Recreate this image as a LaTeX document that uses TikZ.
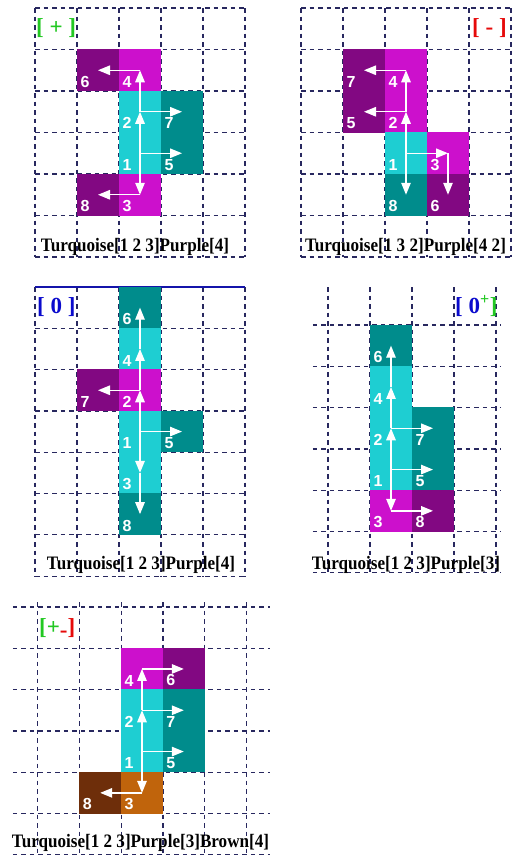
\documentclass[tikz,border=0pt]{standalone}
\usepackage{fontspec}
\setmainfont{Liberation Serif}
\newfontfamily\digfont{Liberation Sans}
\usetikzlibrary{arrows.meta}
\definecolor{turq}{RGB}{30,206,210}
\definecolor{tealc}{RGB}{0,140,140}
\definecolor{magc}{RGB}{204,16,204}
\definecolor{purc}{RGB}{130,8,130}
\definecolor{orbr}{RGB}{192,100,12}
\definecolor{dkbr}{RGB}{110,46,10}
\definecolor{gridc}{RGB}{40,40,95}
\definecolor{lgreen}{RGB}{34,200,34}
\definecolor{lred}{RGB}{230,10,10}
\definecolor{lblue}{RGB}{10,10,205}
\definecolor{topblue}{RGB}{20,20,170}
\tikzset{
  gridline/.style={gridc, line width=1.2pt, dash pattern=on 4.5pt off 4pt},
  cell/.style={rectangle, minimum width=\cw, minimum height=\ch, inner sep=0pt, outer sep=0pt, fill=#1},
  digit/.style={white, font=\digfont\bfseries\fontsize{16}{16}\selectfont, inner sep=0pt, anchor=south west},
  arr/.style={white, line width=1.3pt, -{Triangle[length=12pt,width=9.5pt]}},
  caption/.style={font=\bfseries\fontsize{19}{19}\selectfont, inner sep=0pt, anchor=base},
  tag/.style={font=\bfseries\fontsize{23}{23}\selectfont, inner sep=0pt, anchor=base west},
}
\newcommand{\mkcell}[5]{%
  \node[cell=#2] (#1) at (#3,#4) {};%
  \node[digit] (#1n) at ([shift={(3.5pt,3.5pt)}]#1.south west) {#5};%
}
\begin{document}
\begin{tikzpicture}[x=1pt,y=-1pt]
\useasboundingbox (0,0) rectangle (512,857);
\fill[white] (0,0) rectangle (512,857);

% ---------------- Panel 1 [ + ]
\begin{scope}[shift={(35,8)},x=42pt,y=-41.5pt]
  \def\cw{42.3pt}\def\ch{41.8pt}
  \foreach \c in {0,...,5} \draw[gridline] (\c,0) -- (\c,6);
  \foreach \r in {0,...,6} \draw[gridline] (0,\r) -- (5,\r);
  \mkcell{pa6}{purc}{1.5}{1.5}{6}
  \mkcell{pa4}{magc}{2.5}{1.5}{4}
  \mkcell{pa2}{turq}{2.5}{2.5}{2}
  \mkcell{pa7}{tealc}{3.5}{2.5}{7}
  \mkcell{pa1}{turq}{2.5}{3.5}{1}
  \mkcell{pa5}{tealc}{3.5}{3.5}{5}
  \mkcell{pa8}{purc}{1.5}{4.5}{8}
  \mkcell{pa3}{magc}{2.5}{4.5}{3}
\end{scope}
\draw[arr] (pa1.center) -- (pa2.center);
\draw[arr] (pa2.center) -- (pa4.center);
\draw[arr] (pa4.center) -- (pa6.center);
\draw[arr] (pa2.center) -- (pa7.center);
\draw[arr] (pa1.center) -- (pa5.center);
\draw[arr] (pa1.center) -- (pa3.center);
\draw[arr] (pa3.center) -- (pa8.center);
\node[tag, text=lgreen] (taga) at (36,34.3) {[ + ]};
\node[caption] (capa) at (135,251) {\scalebox{0.9}[1]{Turquoise[1 2 3]Purple[4]}};

% ---------------- Panel 2 [ - ]
\begin{scope}[shift={(301,8)},x=42pt,y=-41.5pt]
  \def\cw{42.3pt}\def\ch{41.8pt}
  \foreach \c in {0,...,5} \draw[gridline] (\c,0) -- (\c,6);
  \foreach \r in {0,...,6} \draw[gridline] (0,\r) -- (5,\r);
  \mkcell{pb7}{purc}{1.5}{1.5}{7}
  \mkcell{pb4}{magc}{2.5}{1.5}{4}
  \mkcell{pb5}{purc}{1.5}{2.5}{5}
  \mkcell{pb2}{magc}{2.5}{2.5}{2}
  \mkcell{pb1}{turq}{2.5}{3.5}{1}
  \mkcell{pb3}{magc}{3.5}{3.5}{3}
  \mkcell{pb8}{tealc}{2.5}{4.5}{8}
  \mkcell{pb6}{purc}{3.5}{4.5}{6}
\end{scope}
\draw[arr] (pb1.center) -- (pb2.center);
\draw[arr] (pb2.center) -- (pb4.center);
\draw[arr] (pb4.center) -- (pb7.center);
\draw[arr] (pb2.center) -- (pb5.center);
\draw[arr] (pb1.center) -- (pb3.center);
\draw[arr] (pb3.center) -- (pb6.center);
\draw[arr] (pb1.center) -- (pb8.center);
\node[tag, text=lred] (tagb) at (472,34.3) {[ - ]};
\node[caption] (capb) at (405.5,251) {\scalebox{0.9}[1]{Turquoise[1 3 2]Purple[4 2]}};

% ---------------- Panel 3 [ 0 ]
\begin{scope}[shift={(35,287)},x=42pt,y=-41.3pt]
  \def\cw{42.3pt}\def\ch{41.6pt}
  \foreach \c in {0,...,5} \draw[gridline] (\c,0) -- (\c,7);
  \foreach \r in {1,...,7} \draw[gridline] (0,\r) -- (5,\r);
  \draw[topblue, line width=2pt] (0,0) -- (5,0);
  \mkcell{pc6}{tealc}{2.5}{0.5}{6}
  \mkcell{pc4}{turq}{2.5}{1.5}{4}
  \mkcell{pc7}{purc}{1.5}{2.5}{7}
  \mkcell{pc2}{magc}{2.5}{2.5}{2}
  \mkcell{pc1}{turq}{2.5}{3.5}{1}
  \mkcell{pc5}{tealc}{3.5}{3.5}{5}
  \mkcell{pc3}{turq}{2.5}{4.5}{3}
  \mkcell{pc8}{tealc}{2.5}{5.5}{8}
\end{scope}
\draw[arr] (pc1.center) -- (pc2.center);
\draw[arr] (pc2.center) -- (pc4.center);
\draw[arr] (pc4.center) -- (pc6.center);
\draw[arr] (pc2.center) -- (pc7.center);
\draw[arr] (pc1.center) -- (pc5.center);
\draw[arr] (pc1.center) -- (pc3.center);
\draw[arr] (pc3.center) -- (pc8.center);
\node[tag, text=lblue] (tagc) at (37,313.3) {[ 0 ]};
\node[caption] (capc) at (141,569) {\scalebox{0.9}[1]{Turquoise[1 2 3]Purple[4]}};

% ---------------- Panel 4 [ 0+ ]
\begin{scope}[shift={(328,283.7)},x=42pt,y=-41.3pt]
  \def\cw{42.3pt}\def\ch{41.6pt}
  \foreach \c in {0,...,4} \draw[gridline] (\c,0.08) -- (\c,7.03);
  \foreach \r in {1,...,7} \draw[gridline] (-0.36,\r) -- (4.12,\r);
  \mkcell{pd6}{tealc}{1.5}{1.5}{6}
  \mkcell{pd4}{turq}{1.5}{2.5}{4}
  \mkcell{pd2}{turq}{1.5}{3.5}{2}
  \mkcell{pd7}{tealc}{2.5}{3.5}{7}
  \mkcell{pd1}{turq}{1.5}{4.5}{1}
  \mkcell{pd5}{tealc}{2.5}{4.5}{5}
  \mkcell{pd3}{magc}{1.5}{5.5}{3}
  \mkcell{pd8}{purc}{2.5}{5.5}{8}
\end{scope}
\draw[arr] (pd1.center) -- (pd2.center);
\draw[arr] (pd2.center) -- (pd4.center);
\draw[arr] (pd4.center) -- (pd6.center);
\draw[arr] (pd2.center) -- (pd7.center);
\draw[arr] (pd1.center) -- (pd5.center);
\draw[arr] (pd1.center) -- (pd3.center);
\draw[arr] (pd3.center) -- (pd8.center);
\node[tag] (tagd) at (455,313.5) {{\color{lblue}[ 0}\textsuperscript{\color{lgreen}+}{\color{lgreen}]}};
\node[caption] (capd) at (406,569) {\scalebox{0.9}[1]{Turquoise[1 2 3]Purple[3]}};

% ---------------- Panel 5 [+-]
\begin{scope}[shift={(37.5,607)},x=41.8pt,y=-41.3pt]
  \def\cw{42.1pt}\def\ch{41.6pt}
  \foreach \c in {0,...,5} \draw[gridline] (\c,-0.12) -- (\c,6.1);
  \foreach \r in {0,...,6} \draw[gridline] (-0.59,\r) -- (5.56,\r);
  \mkcell{pe4}{magc}{2.5}{1.5}{4}
  \mkcell{pe6}{purc}{3.5}{1.5}{6}
  \mkcell{pe2}{turq}{2.5}{2.5}{2}
  \mkcell{pe7}{tealc}{3.5}{2.5}{7}
  \mkcell{pe1}{turq}{2.5}{3.5}{1}
  \mkcell{pe5}{tealc}{3.5}{3.5}{5}
  \mkcell{pe8}{dkbr}{1.5}{4.5}{8}
  \mkcell{pe3}{orbr}{2.5}{4.5}{3}
\end{scope}
\draw[arr] (pe1.center) -- (pe2.center);
\draw[arr] (pe2.center) -- (pe4.center);
\draw[arr] (pe4.center) -- (pe6.center);
\draw[arr] (pe2.center) -- (pe7.center);
\draw[arr] (pe1.center) -- (pe5.center);
\draw[arr] (pe1.center) -- (pe3.center);
\draw[arr] (pe3.center) -- (pe8.center);
\node[tag] (tage) at (39,634) {{\color{lgreen}[+}\raisebox{-0.16em}{\color{lred}-}{\color{lred}]}};
\node[caption] (cape) at (140.5,847) {\scalebox{0.9}[1]{Turquoise[1 2 3]Purple[3]Brown[4]}};
\end{tikzpicture}
\end{document}
